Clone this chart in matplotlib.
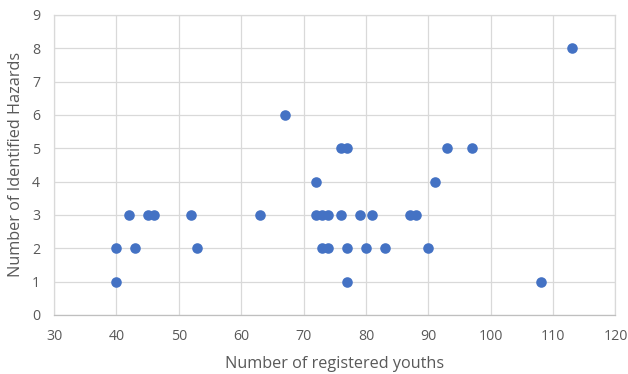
import matplotlib.pyplot as plt

# registered youths vs identified hazards
youths = [40, 40, 42, 43, 45, 46, 52, 53, 63, 67, 72, 72, 73, 73, 74, 74, 76,
          77, 76, 77, 77, 79, 80, 81, 83, 87, 88, 90, 91, 93, 97, 108, 113]
hazards = [2, 1, 3, 2, 3, 3, 3, 2, 3, 6, 4, 3, 2, 3, 2, 3, 5,
           5, 3, 2, 1, 3, 2, 3, 2, 3, 3, 2, 4, 5, 5, 1, 8]

xticks = list(range(30, 121, 10))
yticks = list(range(0, 10))

plt.rcParams['font.family'] = ['Open Sans', 'DejaVu Sans']
grey = '#595959'
gridc = '#D9D9D9'

fig = plt.figure(figsize=(6.28, 3.74), dpi=100)
ax = fig.add_axes([0.086, 0.158, 0.894, 0.802])

ax.scatter(youths, hazards, s=58, color='#4472C4', zorder=3, linewidths=0)

ax.set_xlim(30, 120)
ax.set_ylim(0, 9)
ax.set_xticks(xticks)
ax.set_yticks(yticks)
ax.grid(True, color=gridc, linewidth=0.9)
ax.set_axisbelow(True)
for s in ax.spines.values():
    s.set_color(gridc)
    s.set_linewidth(0.9)
ax.spines['bottom'].set_color('#BFBFBF')
ax.tick_params(length=0, labelsize=10.2, labelcolor=grey)
ax.tick_params(axis='x', pad=10)
ax.tick_params(axis='y', pad=10)

ax.set_xlabel('Number of registered youths', fontsize=11.7, color=grey, labelpad=9)
ax.set_ylabel('Number of Identified Hazards', fontsize=11.7, color=grey, labelpad=5.5)

fig.savefig('out.png', dpi=100)
